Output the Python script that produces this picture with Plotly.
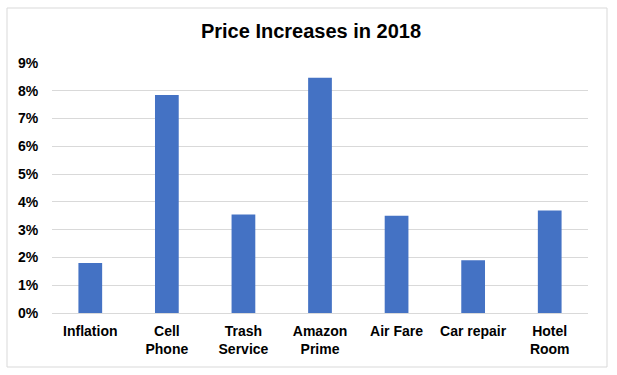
import plotly.graph_objects as go

categories = ["Inflation", "Cell<br>Phone", "Trash<br>Service", "Amazon<br>Prime", "Air Fare", "Car repair", "Hotel<br>Room"]
values = [0.018, 0.0785, 0.0355, 0.0847, 0.035, 0.019, 0.0369]
y_ticks = [0, 0.01, 0.02, 0.03, 0.04, 0.05, 0.06, 0.07, 0.08, 0.09]

fig = go.Figure(go.Bar(x=categories, y=values, marker_color="#4472C4", marker_line_width=0))

W, H = 617, 375
l, r, t, b = 52, 29, 63, 62
pw, ph = W - l - r, H - t - b

fig.update_layout(
    width=W, height=H,
    margin=dict(l=l, r=r, t=t, b=b),
    paper_bgcolor="white", plot_bgcolor="white",
    bargap=0.69,
    showlegend=False,
    font=dict(family="Liberation Sans, Arial, sans-serif", color="black"),
    title=dict(text="Price Increases in 2018", x=311 / W, xanchor="center",
               y=1 - 31 / H, yanchor="middle",
               font=dict(size=20, weight="bold", color="black")),
    shapes=[dict(type="rect", xref="paper", yref="paper",
                 x0=(7 - l) / pw, x1=(607 - l) / pw,
                 y0=(H - b - 367) / ph, y1=(H - b - 8) / ph,
                 line=dict(color="#d9d9d9", width=1), fillcolor="rgba(0,0,0,0)", layer="below")],
)
fig.update_yaxes(range=[0, 0.09], tickvals=y_ticks, tickformat=".0%",
                 showgrid=True, gridcolor="#d9d9d9", gridwidth=1,
                 zeroline=False, showline=False,
                 ticks="outside", ticklen=10, tickcolor="rgba(0,0,0,0)",
                 tickfont=dict(size=14, weight="bold", color="black"))
fig.update_xaxes(showline=True, linecolor="#d9d9d9", linewidth=1,
                 ticks="outside", ticklen=5, tickcolor="rgba(0,0,0,0)",
                 tickfont=dict(size=14, weight="bold", color="black"))

fig.write_html("out.html", config={"displayModeBar": False},
               post_script="document.body.style.margin='0';document.body.style.overflow='hidden';")
